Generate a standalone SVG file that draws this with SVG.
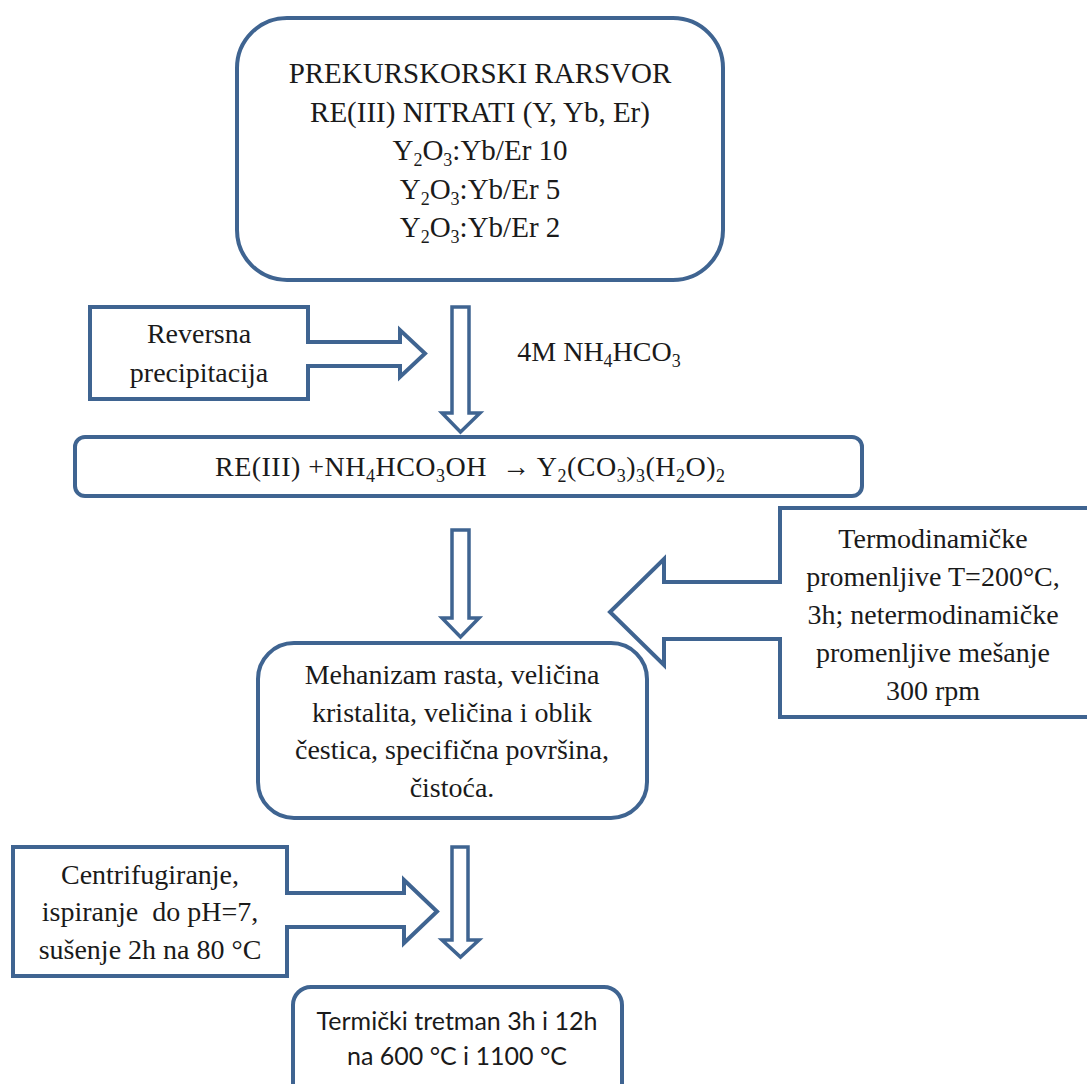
<svg xmlns="http://www.w3.org/2000/svg" width="1087" height="1084" viewBox="0 0 1087 1084">
  <style>
    .box { fill: #ffffff; stroke: #3f6491; stroke-width: 4; }
    .arr { fill: #ffffff; stroke: #3f6491; stroke-width: 3.5; stroke-linejoin: miter; }
    .t { font-family: "Liberation Serif", "Times New Roman", serif; font-size: 28px; fill: #1a1a1a; text-anchor: middle; }
    .big { font-size: 29px; }
    .pre { white-space: pre; }
    .s { font-family: "Lato", "Open Sans", sans-serif; font-size: 25px; fill: #1a1a1a; text-anchor: middle; }
    .sub { font-size: 18px; }
  </style>
  <rect width="1087" height="1084" fill="#ffffff"/>

  <!-- vertical block arrows between the steps -->
  <g id="connectors">
    <path class="arr" d="M452,307 H469 V413 H480 L460.5,432 L442,413 H452 Z"/>
    <path class="arr" d="M452,530 H469 V618 H479 L460.5,637 L442,618 H452 Z"/>
    <path class="arr" d="M452,847 H468 V940 H479 L460.5,957 L442,940 H452 Z"/>
  </g>

  <!-- precursor solution -->
  <g id="precursor">
    <rect class="box" x="237" y="18" width="486" height="262" rx="50" ry="50"/>
    <text class="t big" x="480" y="83">PREKURSKORSKI RARSVOR</text>
    <text class="t big" x="480" y="122">RE(III) NITRATI (Y, Yb, Er)</text>
    <text class="t big" x="480" y="160">Y<tspan class="sub" dy="6">2</tspan><tspan dy="-6">O</tspan><tspan class="sub" dy="6">3</tspan><tspan dy="-6">:Yb/Er 10</tspan></text>
    <text class="t big" x="480" y="199">Y<tspan class="sub" dy="6">2</tspan><tspan dy="-6">O</tspan><tspan class="sub" dy="6">3</tspan><tspan dy="-6">:Yb/Er 5</tspan></text>
    <text class="t big" x="480" y="237">Y<tspan class="sub" dy="6">2</tspan><tspan dy="-6">O</tspan><tspan class="sub" dy="6">3</tspan><tspan dy="-6">:Yb/Er 2</tspan></text>
  </g>

  <!-- reverse precipitation callout -->
  <g id="reversna">
    <path class="box" d="M90,307 H308 V342 H400 V330 L425,353.5 L400,377 V366 H308 V399 H90 Z"/>
    <text class="t" x="199" y="343">Reversna</text>
    <text class="t" x="199" y="382">precipitacija</text>
  </g>

  <!-- reagent label -->
  <g id="reagent">
    <text class="t" x="599" y="361">4M NH<tspan class="sub" dy="6">4</tspan><tspan dy="-6">HCO</tspan><tspan class="sub" dy="6">3</tspan></text>
  </g>

  <!-- reaction equation -->
  <g id="reaction">
    <rect class="box" x="75" y="437" width="787" height="59" rx="10" ry="10"/>
    <text class="t pre" x="470" y="476" textLength="510" lengthAdjust="spacing">RE(III) +NH<tspan class="sub" dy="6">4</tspan><tspan dy="-6">HCO</tspan><tspan class="sub" dy="6">3</tspan><tspan dy="-6">OH  → Y</tspan><tspan class="sub" dy="6">2</tspan><tspan dy="-6">(CO</tspan><tspan class="sub" dy="6">3</tspan><tspan dy="-6">)</tspan><tspan class="sub" dy="6">3</tspan><tspan dy="-6">(H</tspan><tspan class="sub" dy="6">2</tspan><tspan dy="-6">O)</tspan><tspan class="sub" dy="6">2</tspan></text>
  </g>

  <!-- process parameters callout -->
  <g id="parametri">
    <path class="box" d="M1095,508 H780 V582 H664 V559 L610,612 L664,665 V639 H780 V717 H1095"/>
    <text class="t" x="933" y="548">Termodinamičke</text>
    <text class="t" x="933" y="586">promenljive T=200°C,</text>
    <text class="t" x="933" y="624">3h; netermodinamičke</text>
    <text class="t" x="933" y="662">promenljive mešanje</text>
    <text class="t" x="933" y="700">300 rpm</text>
  </g>

  <!-- growth mechanism and properties -->
  <g id="mehanizam">
    <rect class="box" x="258" y="643" width="389" height="175" rx="36" ry="36"/>
    <text class="t" x="452" y="684">Mehanizam rasta, veličina</text>
    <text class="t" x="452" y="722">kristalita, veličina i oblik</text>
    <text class="t" x="452" y="759">čestica, specifična površina,</text>
    <text class="t" x="452" y="797">čistoća.</text>
  </g>

  <!-- washing and drying callout -->
  <g id="centrifugiranje">
    <path class="box" d="M13,847 H287 V893 H404 V880 L437,911.5 L404,943 V927 H287 V976 H13 Z"/>
    <text class="t" x="150" y="884">Centrifugiranje,</text>
    <text class="t pre" x="150" y="921">ispiranje  do pH=7,</text>
    <text class="t" x="150" y="959">sušenje 2h na 80 °C</text>
  </g>

  <!-- thermal treatment -->
  <g id="termicki">
    <rect class="box" x="293" y="987" width="329" height="120" rx="18" ry="18"/>
    <text class="s" x="457" y="1030">Termički tretman 3h i 12h</text>
    <text class="s" x="457" y="1065">na 600 °C i 1100 °C</text>
  </g>
</svg>
